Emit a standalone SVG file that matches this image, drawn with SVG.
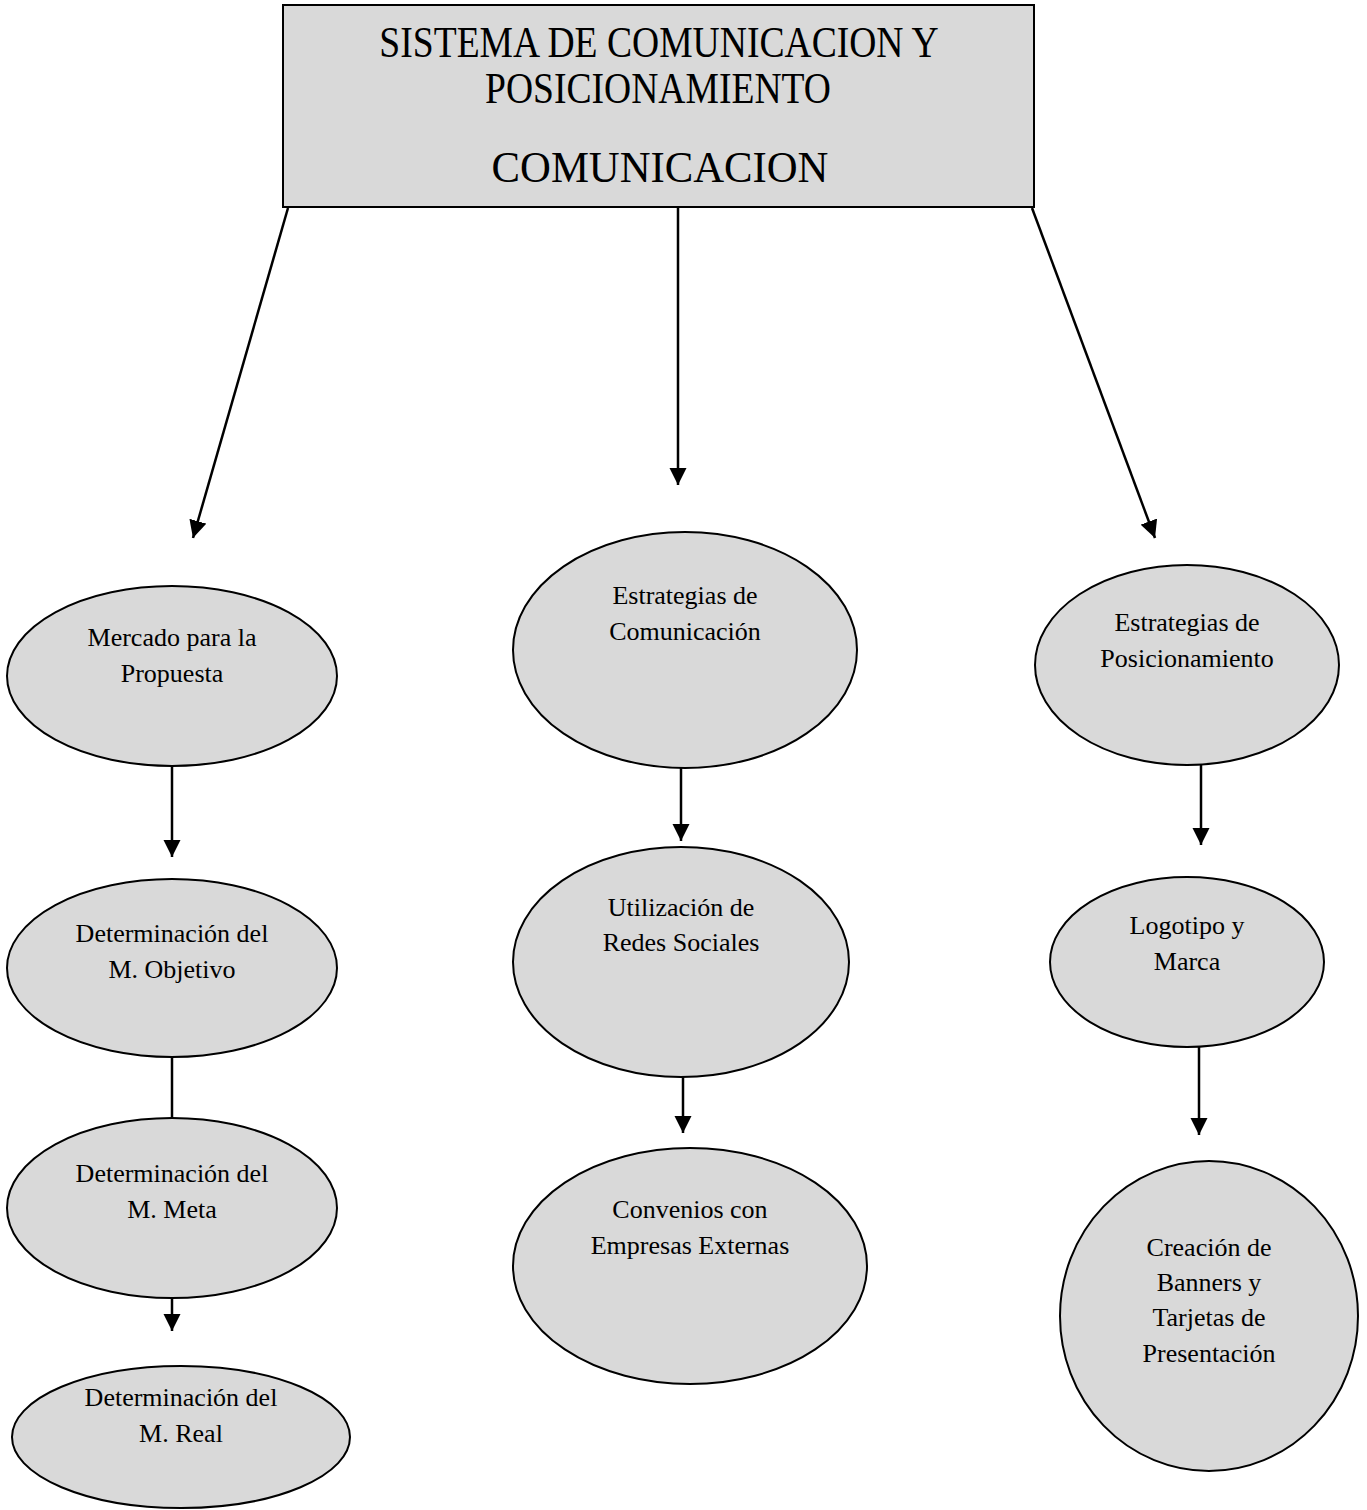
<svg xmlns="http://www.w3.org/2000/svg" width="1367" height="1510" viewBox="0 0 1367 1510">
<style>
.n{fill:#d9d9d9;stroke:#000;stroke-width:2}
.t{font-family:"Liberation Serif",serif;font-size:26px;text-anchor:middle;fill:#000}
.h{font-family:"Liberation Serif",serif;font-size:37.6px;text-anchor:middle;fill:#000}
.c{stroke:#000;stroke-width:2.5;fill:none}
</style>
<defs>
<marker id="a" viewBox="0 0 10 10" refX="10" refY="5" markerWidth="7" markerHeight="7" markerUnits="strokeWidth" orient="auto">
<path d="M0,0 L10,5 L0,10 Z" fill="#000"/>
</marker>
</defs>
<rect width="1367" height="1510" fill="#fff"/>
<g id="top">
<rect class="n" x="283" y="5" width="751" height="202"/>
<text class="h" transform="translate(659,57) scale(1,1.18)">SISTEMA DE COMUNICACION Y</text>
<text class="h" transform="translate(658,103) scale(1,1.18)">POSICIONAMIENTO</text>
<text class="h" transform="translate(660,182) scale(1,1.04)" style="font-size:42.7px">COMUNICACION</text>
</g>
<g id="connectors">
<line class="c" x1="288" y1="208" x2="193" y2="538" marker-end="url(#a)"/>
<line class="c" x1="678" y1="208" x2="678" y2="485" marker-end="url(#a)"/>
<line class="c" x1="1032" y1="208" x2="1155" y2="538" marker-end="url(#a)"/>
<line class="c" x1="172" y1="766" x2="172" y2="857" marker-end="url(#a)"/>
<line class="c" x1="172" y1="1057" x2="172" y2="1127"/>
<line class="c" x1="172" y1="1298" x2="172" y2="1331" marker-end="url(#a)"/>
<line class="c" x1="681" y1="767" x2="681" y2="841" marker-end="url(#a)"/>
<line class="c" x1="683" y1="1077" x2="683" y2="1133" marker-end="url(#a)"/>
<line class="c" x1="1201" y1="765" x2="1201" y2="845" marker-end="url(#a)"/>
<line class="c" x1="1199" y1="1047" x2="1199" y2="1135" marker-end="url(#a)"/>
</g>
<g id="mercado">
<ellipse class="n" cx="172" cy="676" rx="165" ry="90"/>
<text class="t" x="172" y="646">Mercado para la</text>
<text class="t" x="172" y="682">Propuesta</text>
</g>
<g id="objetivo">
<ellipse class="n" cx="172" cy="968" rx="165" ry="89"/>
<text class="t" x="172" y="942">Determinación del</text>
<text class="t" x="172" y="978">M. Objetivo</text>
</g>
<g id="meta">
<ellipse class="n" cx="172" cy="1208" rx="165" ry="90"/>
<text class="t" x="172" y="1182">Determinación del</text>
<text class="t" x="172" y="1218">M. Meta</text>
</g>
<g id="real">
<ellipse class="n" cx="181" cy="1437" rx="169" ry="71"/>
<text class="t" x="181" y="1406">Determinación del</text>
<text class="t" x="181" y="1442">M. Real</text>
</g>
<g id="estcom">
<ellipse class="n" cx="685" cy="650" rx="172" ry="118"/>
<text class="t" x="685" y="604">Estrategias de</text>
<text class="t" x="685" y="640">Comunicación</text>
</g>
<g id="redes">
<ellipse class="n" cx="681" cy="962" rx="168" ry="115"/>
<text class="t" x="681" y="916">Utilización de</text>
<text class="t" x="681" y="951">Redes Sociales</text>
</g>
<g id="convenios">
<ellipse class="n" cx="690" cy="1266" rx="177" ry="118"/>
<text class="t" x="690" y="1218">Convenios con</text>
<text class="t" x="690" y="1254">Empresas Externas</text>
</g>
<g id="estpos">
<ellipse class="n" cx="1187" cy="665" rx="152" ry="100"/>
<text class="t" x="1187" y="631">Estrategias de</text>
<text class="t" x="1187" y="667">Posicionamiento</text>
</g>
<g id="logo">
<ellipse class="n" cx="1187" cy="962" rx="137" ry="85"/>
<text class="t" x="1187" y="934">Logotipo y</text>
<text class="t" x="1187" y="970">Marca</text>
</g>
<g id="creacion">
<ellipse class="n" cx="1209" cy="1316" rx="149" ry="155"/>
<text class="t" x="1209" y="1256">Creación de</text>
<text class="t" x="1209" y="1291">Banners y</text>
<text class="t" x="1209" y="1326">Tarjetas de</text>
<text class="t" x="1209" y="1362">Presentación</text>
</g>
</svg>
